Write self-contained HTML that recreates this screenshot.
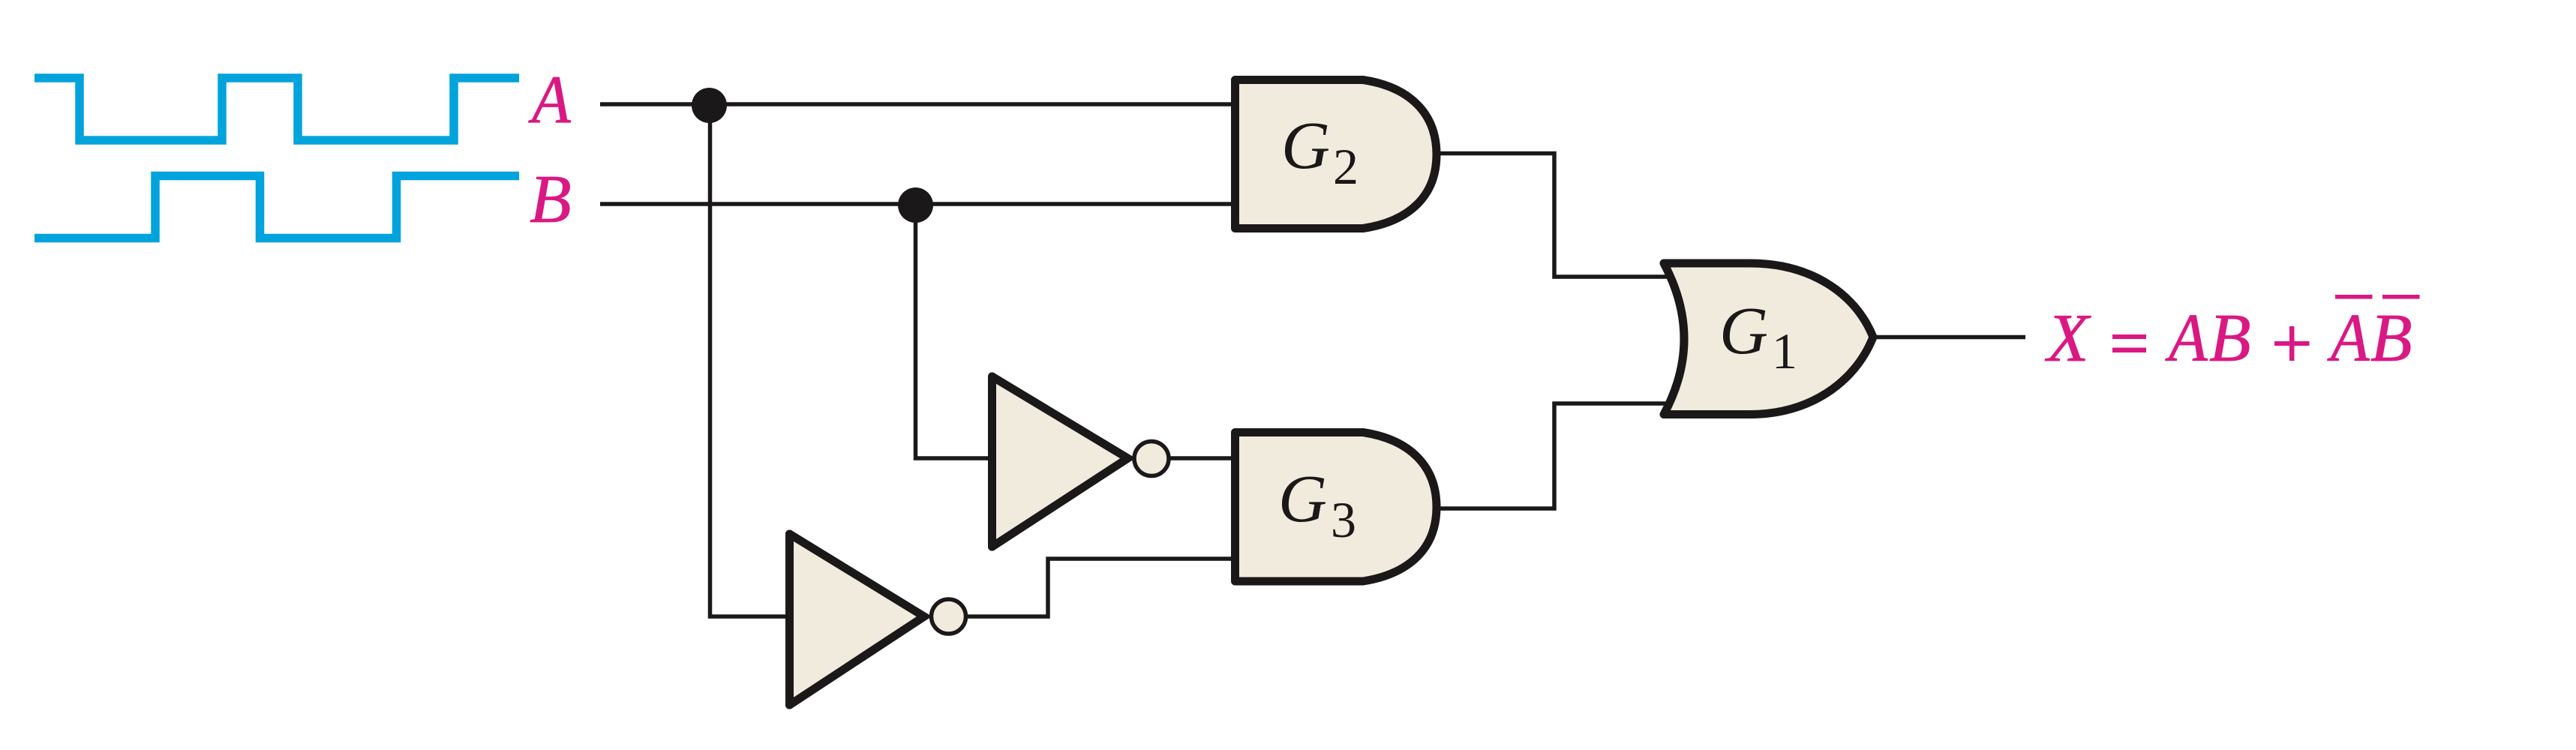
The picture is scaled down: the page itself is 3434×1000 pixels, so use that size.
<!DOCTYPE html>
<html><head><meta charset="utf-8"><title>Logic circuit</title>
<style>html,body{margin:0;padding:0;background:#fff}svg{display:block}
text{font-family:"Liberation Serif",serif}</style></head>
<body>
<svg xmlns="http://www.w3.org/2000/svg" width="3434" height="1000" viewBox="0 0 3434 1000">
<rect width="3434" height="1000" fill="#fff"/>
<!-- waveforms -->
<g fill="none" stroke="#00a3dc" stroke-width="11.5" stroke-linejoin="miter">
<path d="M46 104H106V187H296V104H397V187H605V104H692"/>
<path d="M46 317.5H207V234.5H346.5V317.5H528.5V234.5H692"/>
</g>
<!-- wires -->
<g fill="none" stroke="#1a1818" stroke-width="5.5">
<path d="M800 139H1641"/>
<path d="M800 272H1641"/>
<path d="M946.5 140V822H1050"/>
<path d="M1220.5 273V611H1320"/>
<path d="M1560 611H1645"/>
<path d="M1290 822H1397V745H1645"/>
<path d="M1915 204.5H2072V369H2226"/>
<path d="M1915 678H2072V538H2226"/>
<path d="M2495 449.5H2700"/>
</g>
<circle cx="945.5" cy="140.5" r="23.5" fill="#1a1818"/>
<circle cx="1220.5" cy="273.5" r="23.5" fill="#1a1818"/>
<!-- gates -->
<g fill="#f0ebdc" stroke="#1a1818" stroke-width="11">
<path stroke-linejoin="round" d="M1646.5 106.5H1817C1880 116 1915 152 1915 206C1915 260 1880 295 1817 304.5H1646.5Z"/>
<path stroke-linejoin="round" d="M1646.5 576.5H1817C1880 586 1915 622 1915 676C1915 730 1880 765 1817 775H1646.5Z"/>
<path stroke-linejoin="round" d="M2218 351H2333C2410 351 2472 388 2497 449.5C2472 512 2410 552.5 2333 552.5H2218Q2272 452 2218 351Z"/>
<path stroke-linecap="round" stroke-linejoin="miter" stroke-miterlimit="10" d="M1322.5 502L1503.5 611L1322.5 729"/>
<path stroke-linecap="round" fill="none" d="M1322.5 502V729"/>
<path stroke-linecap="round" stroke-linejoin="miter" stroke-miterlimit="10" d="M1052.5 712L1232 822L1052.5 940"/>
<path stroke-linecap="round" fill="none" d="M1052.5 712V940"/>
<circle cx="1535" cy="611.5" r="23" stroke-width="5.5"/>
<circle cx="1264.5" cy="822" r="23" stroke-width="5.5"/>
</g>
<!-- gate labels -->
<g fill="#1a1818" font-size="90">
<text x="1708" y="224" font-style="italic">G</text>
<text x="1777" y="245" font-size="68">2</text>
<text x="1704" y="695" font-style="italic">G</text>
<text x="1774" y="716" font-size="68">3</text>
<text x="2292" y="471" font-style="italic">G</text>
<text x="2362" y="491" font-size="68">1</text>
</g>
<!-- magenta labels -->
<g fill="#da1884" stroke="#da1884" stroke-width="0.8" font-size="91" font-style="italic">
<text transform="translate(709 163.5) scale(.93 1)">A</text>
<text x="706" y="296">B</text>
<text x="2729" y="481">X</text>
<text transform="translate(2891 481) scale(.93 1)">A</text>
<text x="2945" y="481">B</text>
<text transform="translate(3107 481) scale(.93 1)">A</text>
<text x="3160" y="481">B</text>
</g>
<g fill="#da1884">
<rect x="2816" y="446" width="45" height="6"/>
<rect x="2816" y="463.5" width="45" height="6.5"/>
<rect x="3032" y="455" width="46.5" height="6"/>
<rect x="3052" y="435" width="6.5" height="46"/>
<rect x="3113" y="393" width="49.5" height="5.5"/>
<rect x="3176" y="393" width="49.5" height="5.5"/>
</g>
</svg>
</body></html>
